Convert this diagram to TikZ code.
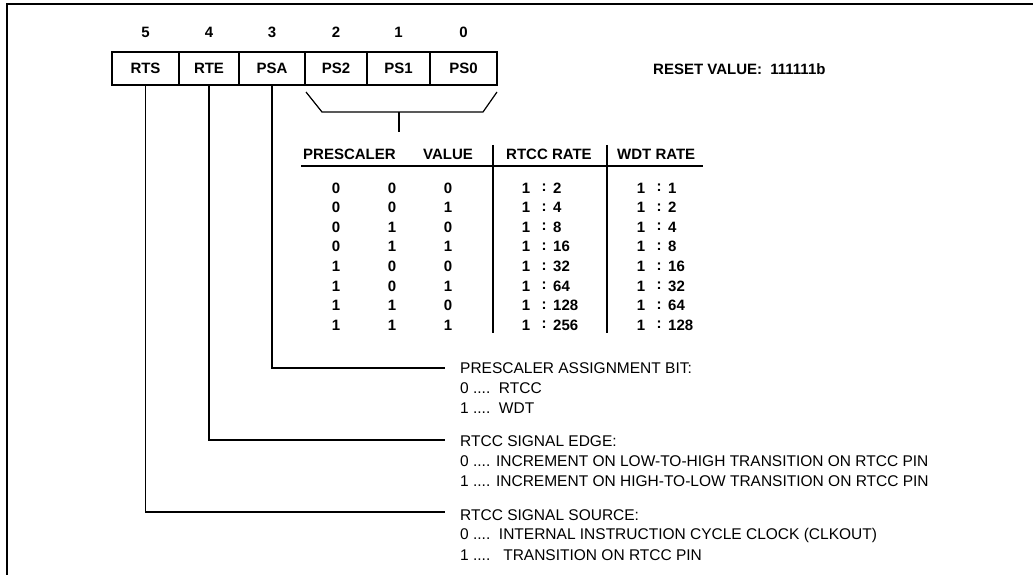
\documentclass[tikz,border=0pt]{standalone}
\usepackage{fontspec}
\setmainfont{Liberation Sans}
\begin{document}
\begin{tikzpicture}[x=1pt,y=-1pt,
  frameline/.style={line width=2pt},
  reg/.style={draw, line width=1.2pt, minimum height=33pt, inner sep=0pt, font=\bfseries\fontsize{15}{15}\selectfont},
  bitno/.style={font=\bfseries\fontsize{15}{15}\selectfont, inner sep=0pt},
  lead/.style={line width=1.2pt},
  hdr/.style={anchor=west, inner sep=0pt, font=\bfseries\fontsize{15}{15}\selectfont},
  cell/.style={inner sep=0pt, font=\bfseries\fontsize{15}{15}\selectfont},
  celll/.style={cell, anchor=west},
  desc/.style={anchor=west, inner sep=0pt, font=\fontsize{15.5}{15.5}\selectfont}
]
\useasboundingbox (0,0) rectangle (1033,575);
% frame
\coordinate (fTR) at (1033,4);
\coordinate (fTL) at (7,4);
\coordinate (fBL) at (7,575);
\draw[frameline] (fTR) -- (fTL) -- (fBL);

% register
\node[reg, minimum width=67pt] (rts) at (145.5,68.5) {RTS};
\node[reg, minimum width=60pt] (rte) at (209,68.5) {RTE};
\node[reg, minimum width=66pt] (psa) at (272,68.5) {PSA};
\node[reg, minimum width=62pt] (ps2) at (336,68.5) {PS2};
\node[reg, minimum width=63pt] (ps1) at (398.5,68.5) {PS1};
\node[reg, minimum width=67pt] (ps0) at (463.5,68.5) {PS0};
\foreach \n/\b in {rts/5,rte/4,psa/3,ps2/2,ps1/1,ps0/0}
  \node[bitno] (b\b) at ([yshift=36.5pt]\n.center) {\b};

\node[hdr] (reset) at (653,69) {RESET VALUE:\ \ 111111b};

% bracket
\coordinate (brA) at (306,92);
\coordinate (brB) at (322,112);
\coordinate (brC) at (483,112);
\coordinate (brD) at (497,92);
\coordinate (stT) at (399,112);
\coordinate (stB) at (399,132);
\draw[lead] (brA) -- (brB) -- (brC) -- (brD);
\draw[lead] (stT) -- (stB);

% table
\node[hdr] (hP) at (303,154) {PRESCALER};
\node[hdr] (hV) at (423,154) {VALUE};
\node[hdr] (hR) at (506,154) {RTCC RATE};
\node[hdr] (hW) at (617,154) {WDT RATE};
\coordinate (ulL) at (301,166);
\coordinate (ulR) at (703,166);
\draw[lead] (ulL) -- (ulR);
\coordinate (d1T) at (493,145);
\coordinate (d1B) at (493,333);
\coordinate (d2T) at (607,145);
\coordinate (d2B) at (607,333);
\draw[lead] (d1T) -- (d1B);
\draw[lead] (d2T) -- (d2B);

\foreach \i/\a/\bb/\c/\r/\w in {0/0/0/0/2/1,1/0/0/1/4/2,2/0/1/0/8/4,3/0/1/1/16/8,4/1/0/0/32/16,5/1/0/1/64/32,6/1/1/0/128/64,7/1/1/1/256/128}{
  \node[cell] (ra\i) at (336,188+19.6*\i) {\a};
  \node[cell] (rb\i) at (392,188+19.6*\i) {\bb};
  \node[cell] (rc\i) at (448,188+19.6*\i) {\c};
  \node[cell] (rr1\i) at (526,188+19.6*\i) {1};
  \node[cell] (rrc\i) at (544,188+19.6*\i) {:};
  \node[celll] (rrn\i) at (553,188+19.6*\i) {\r};
  \node[cell] (rw1\i) at (641,188+19.6*\i) {1};
  \node[cell] (rwc\i) at (659,188+19.6*\i) {:};
  \node[celll] (rwn\i) at (668,188+19.6*\i) {\w};
}

% leader lines
\coordinate (lPSA) at (445,368);
\coordinate (lRTE) at (445,440);
\coordinate (lRTS) at (445,512);
\draw[lead] (psa.south) |- (lPSA);
\draw[lead] (rte.south) |- (lRTE);
\draw[lead] (rts.south) |- (lRTS);

% descriptions
\node[desc] (p1) at (460,368) {PRESCALER ASSIGNMENT BIT:};
\node[desc] (p2) at (460,388) {0 ....\ \ RTCC};
\node[desc] (p3) at (460,408) {1 ....\ \ WDT};
\node[desc] (e1) at (460,441) {RTCC SIGNAL EDGE:};
\node[desc] (e2) at (460,461) {0 .... INCREMENT ON LOW-TO-HIGH TRANSITION ON RTCC PIN};
\node[desc] (e3) at (460,481) {1 .... INCREMENT ON HIGH-TO-LOW TRANSITION ON RTCC PIN};
\node[desc] (s1) at (460,515) {RTCC SIGNAL SOURCE:};
\node[desc] (s2) at (460,535) {0 ....\ \ INTERNAL INSTRUCTION CYCLE CLOCK (CLKOUT)};
\node[desc] (s3) at (460,555) {1 ....\ \ \ TRANSITION ON RTCC PIN};
\end{tikzpicture}
\end{document}
